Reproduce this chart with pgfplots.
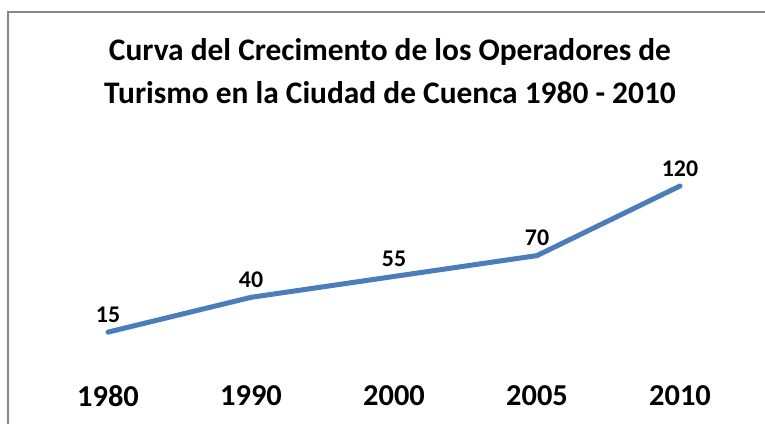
\documentclass[border=0pt]{standalone}
\usepackage{fontspec}
\setmainfont{Carlito}
\usepackage{pgfplots}
\pgfplotsset{compat=1.18}
\definecolor{linea}{RGB}{74,126,187}
\definecolor{marco}{RGB}{134,134,134}
\begin{document}
\begin{tikzpicture}[x=1bp,y=1bp]
\useasboundingbox (0,0) rectangle (765,423);
% marco del grafico (recortado por la imagen)
\draw[marco, line width=1.2bp] (8,-5) -- (8,411) -- (770,411);
\node[align=center, font=\fontsize{31.5}{43}\selectfont\bfseries] at (390,351.5)
  {Curva del Crecimento de los Operadores de\\Turismo en la Ciudad de Cuenca 1980 - 2010};
\begin{axis}[
    at={(108bp,70bp)}, anchor=origin,
    scale only axis,
    width=572bp, height=167bp,
    xmin=0, xmax=4, ymin=0, ymax=120,
    axis line style={draw=none},
    tick style={draw=none},
    ytick=\empty,
    xtick={0,1,2,3,4},
    xticklabels={1980,1990,2000,2005,2010},
    xticklabel style={anchor=north, inner sep=0pt, yshift=-32bp,
        font=\fontsize{30.5}{36}\selectfont\bfseries},
    clip=false,
    /pgf/number format/assume math mode=true,
    nodes near coords,
    every node near coord/.style={anchor=south, inner sep=0pt, yshift=7bp,
        font=\fontsize{24}{28}\selectfont\bfseries, text=black},
]
\addplot[linea, line width=5bp, line cap=round, line join=round, mark=none]
coordinates {(0,15) (1,40) (2,55) (3,70) (4,120)};
\end{axis}
\end{tikzpicture}
\end{document}
